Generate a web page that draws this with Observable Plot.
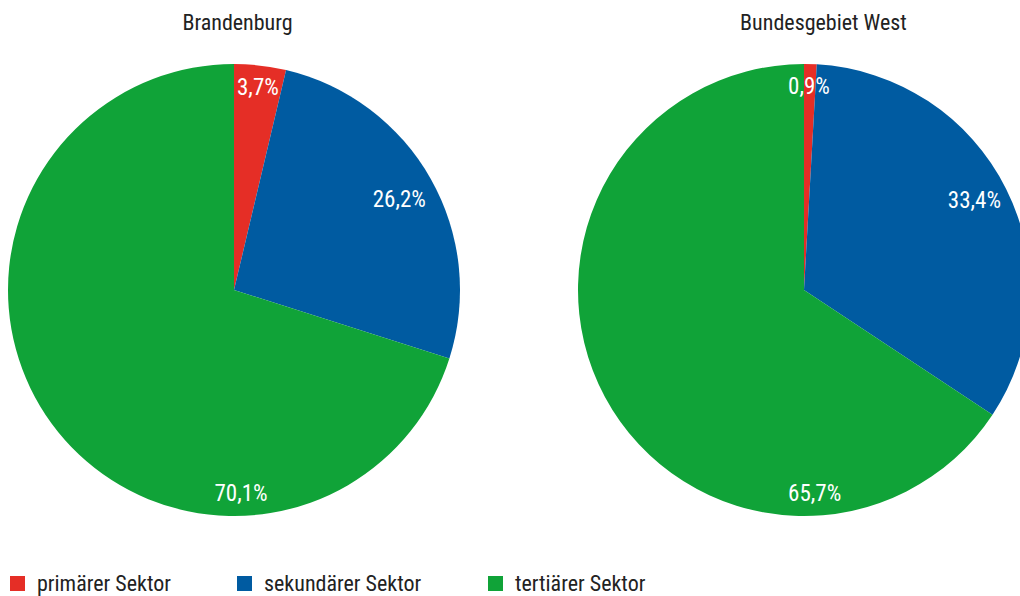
<!DOCTYPE html>
<html>
<head>
<meta charset="utf-8">
<script src="https://cdn.jsdelivr.net/npm/d3@7"></script>
<script src="https://cdn.jsdelivr.net/npm/@observablehq/plot@0.6"></script>
<style>
  html, body { margin: 0; padding: 0; background: #fff; width: 1020px; height: 596px; overflow: hidden; }
  body { position: relative; font-family: "Roboto Condensed", "Liberation Sans Narrow", "DejaVu Sans Condensed", "Arial Narrow", sans-serif; font-stretch: condensed; }
  #chart svg { display: block; }
  .legend { position: absolute; top: 572px; left: 0; width: 1020px; height: 22px; font-size: 22px; color: #222; }
  .legend .item { position: absolute; top: 0; display: flex; align-items: center; height: 22px; }
  .legend .sw { width: 15px; height: 15px; margin-right: 12px; }
</style>
</head>
<body>
<div id="chart"></div>
<div class="legend" id="legend"></div>
<script>
// ---- data ----
const regions = ["Brandenburg", "Bundesgebiet West"];
const sectors = ["primärer Sektor", "sekundärer Sektor", "tertiärer Sektor"];
const brandenburgValues = [3.7, 26.2, 70.1];
const westValues = [0.9, 33.4, 65.7];
const sectorColors = ["#E52E26", "#005BA1", "#10A338"];

// ---- layout (not data) ----
const W = 1020, H = 556;
const centerY = 290, radius = 226;
// label placement per slice: angle in degrees (clockwise from 12 o'clock), radius in px
const labelPlacement = {
  "Brandenburg": [{a: 6.7, r: 205}, {a: 61, r: 189}, {a: 178, r: 203}],
  "Bundesgebiet West": [{a: 1.4, r: 204}, {a: 62, r: 193}, {a: 177, r: 203}]
};
const titleOffset = {"Brandenburg": 3, "Bundesgebiet West": 19};

const table = [];
regions.forEach((r, i) => {
  const vals = i === 0 ? brandenburgValues : westValues;
  sectors.forEach((s, j) => table.push({region: r, sector: s, value: vals[j]}));
});

const fmt = v => v.toFixed(1).replace(".", ",") + "%";
const fontFamily = '"Roboto Condensed", "Liberation Sans Narrow", "DejaVu Sans Condensed", "Arial Narrow", sans-serif';

function pies(index, scales) {
  const g = d3.create("svg:g");
  const pie = d3.pie().sort(null).value(d => d.value);
  const arc = d3.arc().innerRadius(0).outerRadius(radius);
  for (const r of regions) {
    const rows = table.filter(d => d.region === r);
    const cx = scales.x(r), cy = scales.y(centerY);
    const gg = g.append("g").attr("transform", `translate(${cx},${cy})`);
    const arcs = pie(rows);
    gg.selectAll("path").data(arcs).join("path")
      .attr("d", arc)
      .attr("fill", d => scales.color(d.data.sector))
      .attr("stroke", "none");
    const lp = labelPlacement[r];
    gg.selectAll("text").data(arcs).join("text")
      .attr("x", (d, i) => lp[i].r * Math.sin(lp[i].a * Math.PI / 180))
      .attr("y", (d, i) => -lp[i].r * Math.cos(lp[i].a * Math.PI / 180))
      .attr("text-anchor", "middle")
      .attr("dy", "0.36em")
      .attr("fill", "#fff")
      .attr("font-size", 23)
      .attr("font-weight", "normal")
      .attr("font-family", fontFamily)
      .attr("font-stretch", "condensed")
      .text(d => fmt(d.data.value));
  }
  return g.node();
}

const chart = Plot.plot({
  width: W,
  height: H,
  margin: 0,
  style: {fontFamily, fontStretch: "condensed", background: "white", overflow: "hidden"},
  x: {type: "point", domain: regions, range: [234, 804], padding: 0, axis: null},
  y: {type: "identity", axis: null},
  color: {domain: sectors, range: sectorColors},
  marks: [
    pies,
    Plot.text(regions.slice(0, 1), {x: d => d, y: () => 22, text: d => d, dx: titleOffset["Brandenburg"], fontSize: 22, fill: "#222", textAnchor: "middle"}),
    Plot.text(regions.slice(1), {x: d => d, y: () => 22, text: d => d, dx: titleOffset["Bundesgebiet West"], fontSize: 22, fill: "#222", textAnchor: "middle"})
  ]
});
document.getElementById("chart").appendChild(chart);

// legend
const legendLeft = [10, 237, 488];
const legend = d3.select("#legend");
sectors.forEach((s, i) => {
  const it = legend.append("div").attr("class", "item").style("left", legendLeft[i] + "px");
  it.append("div").attr("class", "sw").style("background", sectorColors[i]);
  it.append("span").text(s);
});
</script>
</body>
</html>
